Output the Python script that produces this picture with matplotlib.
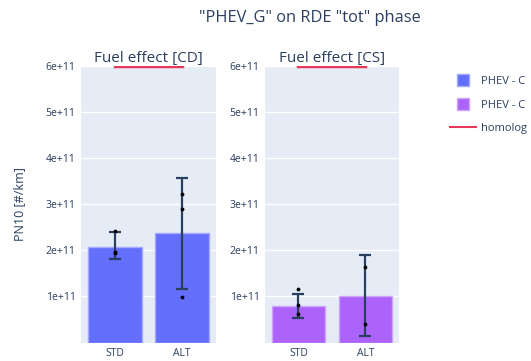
import matplotlib
matplotlib.use("Agg")
import matplotlib.pyplot as plt
from matplotlib.lines import Line2D

plt.rcParams['font.family'] = ['Open Sans', 'DejaVu Sans']

categories = ["STD", "ALT"]
panel_titles = ["Fuel effect [CD]", "Fuel effect [CS]"]
legend_labels = ["PHEV - C", "PHEV - C", "homolog"]

cd_means = [2.08e11, 2.37e11]
cd_err_plus = [0.31e11, 1.21e11]
cd_err_minus = [0.26e11, 1.21e11]
cd_points = [[2.42e11, 1.94e11, 1.96e11], [3.22e11, 2.90e11, 0.99e11]]

cs_means = [0.79e11, 1.02e11]
cs_err_plus = [0.27e11, 0.88e11]
cs_err_minus = [0.25e11, 0.88e11]
cs_points = [[1.16e11, 0.81e11, 0.62e11], [1.64e11, 0.40e11]]

limit = 6e11
yticks = [1e11, 2e11, 3e11, 4e11, 5e11, 6e11]
ytick_labels = ["1e+11", "2e+11", "3e+11", "4e+11", "5e+11", "6e+11"]

text_color = "#2a3f5f"
bg = "#E5ECF6"
colors = ["#636EFA", "#AB63FA"]
edge_colors = ["#A3A9FC", "#CDA3FC"]
limit_color = "#E8385A"

fig = plt.figure(figsize=(5.31, 3.61), dpi=100)
ax1 = fig.add_axes([0.1525, 0.0512, 0.2542, 0.766])
ax2 = fig.add_axes([0.499, 0.0512, 0.2524, 0.766])

data = [(cd_means, cd_err_plus, cd_err_minus, cd_points),
        (cs_means, cs_err_plus, cs_err_minus, cs_points)]

for i, (ax, (means, ep, em, pts)) in enumerate(zip([ax1, ax2], data)):
    ax.set_facecolor(bg)
    x = list(range(len(categories)))
    ax.set_axisbelow(True)
    ax.grid(axis='y', color='white', linewidth=1)
    ax.bar(x, means, width=0.8, color=colors[i], edgecolor=edge_colors[i], linewidth=1, zorder=2)
    ax.errorbar(x, means, yerr=[em, ep], fmt='none', ecolor=text_color, elinewidth=1.6,
                capsize=4.5, capthick=1.6, zorder=3)
    for xi, p in zip(x, pts):
        ax.scatter([xi] * len(p), p, s=3, color='black', zorder=4)
    ax.plot([x[0], x[-1]], [limit, limit], color=limit_color, linewidth=2.5, zorder=5, clip_on=True)
    ax.set_xlim(-0.5, 1.5)
    ax.set_ylim(0, 6e11)
    ax.set_xticks(x)
    ax.set_xticklabels(categories)
    ax.set_yticks(yticks)
    ax.set_yticklabels(ytick_labels)
    ax.tick_params(axis='both', length=0, labelsize=7.5, colors=text_color, pad=4)
    for s in ax.spines.values():
        s.set_visible(False)
    ax.set_title(panel_titles[i], fontsize=11, color=text_color, pad=1)

ax1.set_ylabel("PN10 [#/km]", fontsize=9, color=text_color, labelpad=14)

fig.suptitle('"PHEV_G" on RDE "tot" phase', x=0.584, y=0.972, fontsize=11.8, color=text_color)

handles = [Line2D([], [], linestyle='none', marker='s', markersize=8,
                  markerfacecolor=colors[0], markeredgecolor=edge_colors[0]),
           Line2D([], [], linestyle='none', marker='s', markersize=8,
                  markerfacecolor=colors[1], markeredgecolor=edge_colors[1]),
           Line2D([0], [0], color=limit_color, linewidth=1.5)]
leg = fig.legend(handles, legend_labels, loc='upper left', bbox_to_anchor=(0.828, 0.818),
                 frameon=False, fontsize=8, labelcolor=text_color, handlelength=2.4,
                 handleheight=0.9, labelspacing=1.1, handletextpad=0.4)

fig.savefig("out.png", dpi=100)
